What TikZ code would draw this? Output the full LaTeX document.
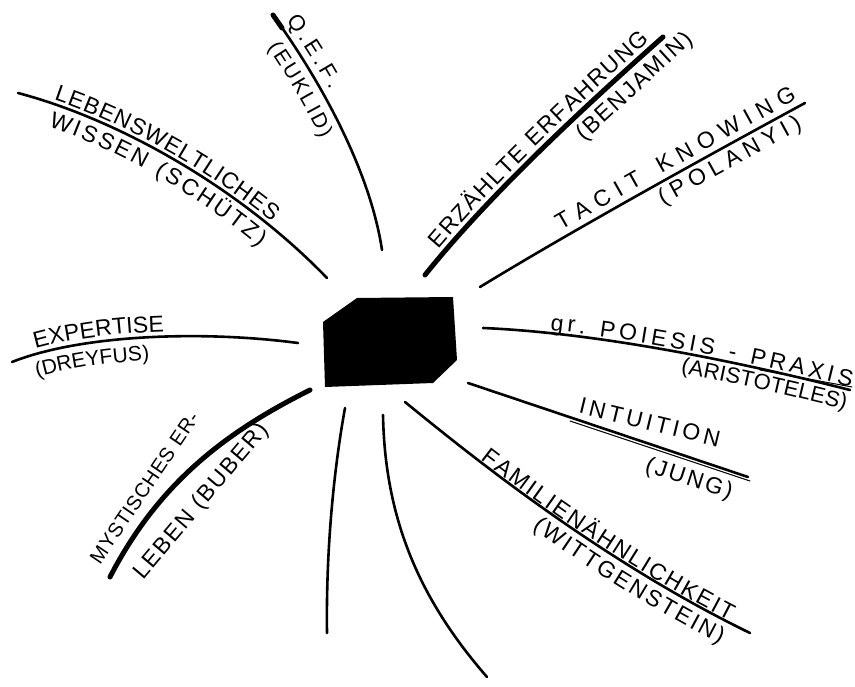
\documentclass[tikz,border=0pt]{standalone}
\usepackage{fontspec}
\usetikzlibrary{decorations.text}
\newfontfamily\handfont{Liberation Sans}
\newcommand\hf[1]{\handfont\fontsize{#1}{#1}\selectfont}
\begin{document}
\begin{tikzpicture}[x=1pt,y=-1pt,
  stroke/.style={line width=2.6pt, line cap=round},
  heavy/.style={line width=5pt, line cap=round},
  hair/.style={line width=1pt, line cap=round},
  ontext/.style n args={5}{postaction={decorate, decoration={text along path,
      text={|\hf{#5}|#1}, raise=#2,
      text align={fit to path, left indent=#3, right indent=#4}}}},
  freetext/.style n args={2}{decorate, decoration={text along path,
      text={|\hf{#1}|#2}, text align={fit to path}}}]
\useasboundingbox (0,0) rectangle (855,687);

% central block
\fill (323,322) -- (357,298) -- (453,297) -- (457,360) -- (433,383) -- (325,387) -- cycle;

% Lebensweltliches Wissen
\draw[stroke,
  ontext={LEBENSWELTLICHES}{4pt}{36pt}{78pt}{23},
  ontext={WISSEN (SCHÜTZ)}{-23pt}{40pt}{72pt}{23}]
  (18,93) .. controls (120,120) and (240,188) .. (327,278);

% Q.E.F.
\draw[stroke,
  ontext={Q.E.F.}{8pt}{12pt}{168pt}{22},
  ontext={(EUKLID)}{-23pt}{24pt}{128pt}{21}]
  (273,15) .. controls (320,80) and (370,170) .. (382,250);
\draw[heavy] (273,15) -- (282,28);

% Erzaehlte Erfahrung
\draw[heavy,
  ontext={ERZÄHLTE ERFAHRUNG}{6pt}{28pt}{12pt}{23}]
  (425,275) .. controls (485,200) and (575,115) .. (663,37);
\coordinate (benA) at (584,142);
\coordinate (benB) at (694,41);
\path[freetext={23}{(BENJAMIN)}] (benA) -- (benB);

% Tacit knowing
\draw[stroke,
  ontext={TACIT KNOWING}{7pt}{98pt}{5pt}{23},
  ontext={(POLANYI)}{-21pt}{200pt}{14pt}{23}]
  (480,287) .. controls (570,232) and (700,160) .. (805,103);

% Expertise
\draw[stroke,
  ontext={EXPERTISE}{5pt}{26pt}{134pt}{23},
  ontext={(DREYFUS)}{-23pt}{20pt}{150pt}{21}]
  (12,362) .. controls (80,335) and (200,330) .. (298,343);

% Poiesis - Praxis
\draw[stroke,
  ontext={gr. POIESIS - PRAXIS}{3pt}{67pt}{0pt}{23},
  ontext={(ARISTOTELES)}{-20pt}{203pt}{0pt}{22}]
  (483,328) .. controls (600,333) and (740,362) .. (850,390);
\draw[hair] (760,370) -- (852,387);

% Intuition
\draw[stroke] (468,383) -- (748,477);
\draw[hair] (570,421) -- (750,481);
\coordinate (intA) at (578,413);
\coordinate (intB) at (718,447);
\path[freetext={23}{INTUITION}] (intA) -- (intB);
\coordinate (junA) at (644,471);
\coordinate (junB) at (730,499);
\path[freetext={23}{(JUNG)}] (junA) -- (junB);

% Familienaehnlichkeit
\draw[stroke,
  ontext={FAMILIENÄHNLICHKEIT}{2pt}{95pt}{24pt}{23},
  ontext={(WITTGENSTEIN)}{-23pt}{177pt}{22pt}{23}]
  (405,402) .. controls (470,455) and (600,560) .. (750,633);

% Mystisches Erleben
\draw[heavy] (110,577) .. controls (160,480) and (230,430) .. (310,390);
\coordinate (mysA) at (100,565);
\coordinate (mysB) at (200,418);
\path[freetext={20}{MYSTISCHES ER-}] (mysA) -- (mysB);
\coordinate (lebA) at (143,580);
\coordinate (lebB) at (269,431);
\path[freetext={23}{LEBEN (BUBER)}] (lebA) -- (lebB);

% bottom strokes
\draw[stroke] (345,408) .. controls (332,480) and (326,560) .. (327,633);
\draw[stroke] (383,415) .. controls (385,520) and (420,600) .. (487,677);
\end{tikzpicture}
\end{document}
